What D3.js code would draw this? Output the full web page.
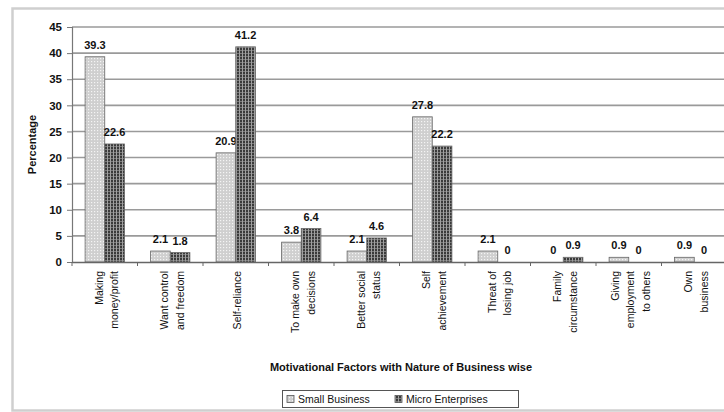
<!DOCTYPE html>
<html>
<head>
<meta charset="utf-8">
<script src="https://cdn.jsdelivr.net/npm/d3@7"></script>
<style>
  html, body { margin: 0; padding: 0; background: #fff; }
  svg { display: block; font-family: "Liberation Sans", Arial, sans-serif; }
</style>
</head>
<body>
<svg id="chart" width="724" height="412"></svg>
<script>
// Motivational factors by nature of business (percent of respondents)
const categories = [
  ["Making", "money/profit"],
  ["Want control", "and freedom"],
  ["Self-reliance"],
  ["To make own", "decisions"],
  ["Better social", "status"],
  ["Self", "achievement"],
  ["Threat of", "losing job"],
  ["Family", "circumstance"],
  ["Giving", "employment", "to others"],
  ["Own", "business"]
];
const seriesNames = ["Small Business", "Micro Enterprises"];
const smallBusiness = [39.3, 2.1, 20.9, 3.8, 2.1, 27.8, 2.1, 0, 0.9, 0.9];
const microEnterprises = [22.6, 1.8, 41.2, 6.4, 4.6, 22.2, 0, 0.9, 0, 0];
const yTicks = [0, 5, 10, 15, 20, 25, 30, 35, 40, 45];
const yTitle = "Percentage";
const xTitle = "Motivational Factors with Nature of Business wise";

const svg = d3.select("#chart");

// Outer chart frame
svg.append("rect")
  .attr("x", 12.5).attr("y", 8.5).attr("width", 730).attr("height", 402)
  .attr("fill", "none").attr("stroke", "#cfcfcf").attr("stroke-width", 2.5);

// Fill patterns for the two series
const defs = svg.append("defs");
const pSmall = defs.append("pattern").attr("id", "pSmall")
  .attr("patternUnits", "userSpaceOnUse").attr("width", 3).attr("height", 3);
pSmall.append("rect").attr("width", 3).attr("height", 3).attr("fill", "#cfcfcf");
pSmall.append("rect").attr("x", 1).attr("y", 1).attr("width", 1.2).attr("height", 1.2).attr("fill", "#f4f4f4");

const pMicro = defs.append("pattern").attr("id", "pMicro")
  .attr("patternUnits", "userSpaceOnUse").attr("width", 3).attr("height", 3);
pMicro.append("rect").attr("width", 3).attr("height", 3).attr("fill", "#3a3a3a");
pMicro.append("rect").attr("x", 2).attr("y", 0).attr("width", 1).attr("height", 3).attr("fill", "#a0a0a0");
pMicro.append("rect").attr("x", 0).attr("y", 2).attr("width", 2).attr("height", 0.8).attr("fill", "#8a8a8a");

const plotLeft = 72, plotRight = 727, plotTop = 27, plotBottom = 262;

const x = d3.scaleBand().domain(d3.range(categories.length)).range([plotLeft, plotRight]).padding(0);
const y = d3.scaleLinear().domain([0, 45]).range([plotBottom, plotTop]);
const inner = d3.scaleBand().domain([0, 1]).range([x.bandwidth() * 0.2, x.bandwidth() * 0.8]).padding(0);

// Horizontal gridlines
svg.append("g").selectAll("line").data(yTicks.filter(t => t > 0)).join("line")
  .attr("x1", plotLeft).attr("x2", 724)
  .attr("y1", d => y(d)).attr("y2", d => y(d))
  .attr("stroke", "#9a9a9a").attr("stroke-width", 1.6);

// Y axis
const yAxis = svg.append("g").attr("transform", `translate(${plotLeft},0)`)
  .call(d3.axisLeft(y).tickValues(yTicks).tickSize(5).tickPadding(5));
yAxis.select(".domain").attr("stroke", "#777").attr("stroke-width", 1.2);
yAxis.selectAll(".tick line").attr("stroke", "#777");
yAxis.selectAll(".tick text")
  .attr("font-size", 11.5).attr("font-weight", "bold").attr("fill", "#111")
  .attr("font-family", "Liberation Sans, Arial, sans-serif");

// Bars
const series = [smallBusiness, microEnterprises];
const fills = ["url(#pSmall)", "url(#pMicro)"];
series.forEach((vals, s) => {
  const g = svg.append("g");
  g.selectAll("rect").data(vals).join("rect")
    .attr("x", (d, i) => x(i) + inner(s))
    .attr("y", d => y(d))
    .attr("width", inner.bandwidth())
    .attr("height", d => y(0) - y(d))
    .attr("fill", fills[s])
    .attr("stroke", "#666").attr("stroke-width", 0.8);
  g.selectAll("text").data(vals).join("text")
    .attr("x", (d, i) => x(i) + inner(s) + inner.bandwidth() / 2)
    .attr("y", d => y(d) - 8)
    .attr("text-anchor", "middle")
    .attr("font-size", 11).attr("font-weight", "bold").attr("fill", "#111")
    .text(d => d);
});

// X axis line and category separators
const xAxis = svg.append("g").attr("transform", `translate(0,${plotBottom})`)
  .call(d3.axisBottom(x).tickValues([]).tickSizeOuter(0));
xAxis.select(".domain").attr("stroke", "#666").attr("stroke-width", 1.4);
svg.append("g").selectAll("line").data(d3.range(categories.length)).join("line")
  .attr("x1", d => x(d)).attr("x2", d => x(d))
  .attr("y1", plotBottom).attr("y2", plotBottom + 4)
  .attr("stroke", "#666");

// Rotated category labels
const lineGap = 15.5;
const labels = svg.append("g");
categories.forEach((lines, i) => {
  const cx = x(i) + x.bandwidth() / 2 + 1.5;
  lines.forEach((t, j) => {
    const lx = cx + (j - (lines.length - 1) / 2) * lineGap;
    labels.append("text")
      .attr("transform", `translate(${lx},${plotBottom + 9}) rotate(-90)`)
      .attr("text-anchor", "end")
      .attr("dominant-baseline", "central")
      .attr("font-size", 10.5).attr("fill", "#111")
      .text(t);
  });
});

// Axis titles
svg.append("text")
  .attr("transform", `translate(32,${(plotTop + plotBottom) / 2}) rotate(-90)`)
  .attr("text-anchor", "middle").attr("dominant-baseline", "central")
  .attr("font-size", 11).attr("font-weight", "bold").attr("fill", "#111")
  .text(yTitle);

svg.append("text")
  .attr("x", 401).attr("y", 371)
  .attr("text-anchor", "middle")
  .attr("font-size", 11).attr("font-weight", "bold").attr("fill", "#111")
  .text(xTitle);

// Legend
const legend = svg.append("g");
legend.append("rect")
  .attr("x", 282.5).attr("y", 390.5).attr("width", 236).attr("height", 17)
  .attr("fill", "#fff").attr("stroke", "#555").attr("stroke-width", 1);
const legendX = [287, 395];
seriesNames.forEach((name, s) => {
  legend.append("rect")
    .attr("x", legendX[s]).attr("y", 395.5).attr("width", 7).attr("height", 7)
    .attr("fill", fills[s]).attr("stroke", "#555").attr("stroke-width", 0.8);
  legend.append("text")
    .attr("x", legendX[s] + 11).attr("y", 403)
    .attr("font-size", 10.5).attr("fill", "#111")
    .text(name);
});
</script>
</body>
</html>
